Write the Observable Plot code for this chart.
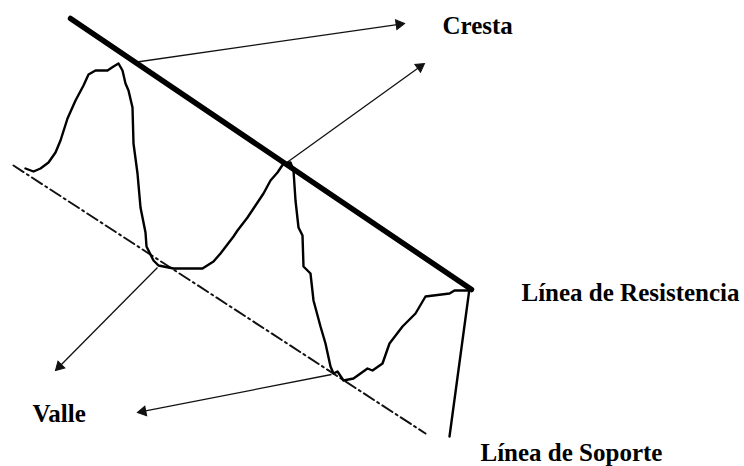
<!DOCTYPE html>
<html>
<head>
<meta charset="utf-8">
<script src="https://cdn.jsdelivr.net/npm/d3@7"></script>
<script src="https://cdn.jsdelivr.net/npm/@observablehq/plot@0.6"></script>
<style>
  html, body { margin: 0; padding: 0; background: #fff; }
  #chart { width: 744px; height: 466px; }
</style>
</head>
<body>
<div id="chart"></div>
<script>
// Price path (diagram units = reference pixel grid)
const priceX = [25,33,40,48,55,60,67,75,83,88,95,107,113,118,122,125,128,132,133,137,140,145,146,153,158,173,202,213,220,233,237,247,263,270,277,283,290,293,295,298,302,303,310,313,320,325,330,333,337,343,353,367,372,382,389,402,415,425,449,454,467,469,449];
const priceY = [168,171,168,162,152,140,118,100,85,74,70,70,66,63,70,83,90,107,143,173,207,232,246,260,265,268,268,261,253,236,230,217,193,180,172,163,162,170,200,227,235,266,273,300,326,343,366,373,371,380,378,368,370,363,343,326,313,296,293,290,290,288,436];

// Resistance (crest) line and support (valley) line endpoints
const resistanceX = [70, 471];
const resistanceY = [18, 289];
const supportX = [13, 425];
const supportY = [165, 433];

// Arrows: tail -> tip
const arrowX1 = [133, 285, 157, 331];
const arrowY1 = [62, 163, 267, 374];
const arrowX2 = [404, 424, 55, 137];
const arrowY2 = [23, 63, 370, 412];

// Labels
const labelText = ["Cresta", "Línea de Resistencia", "Valle", "Línea de Soporte"];
const labelX = [442, 521, 32, 480];
const labelY = [33, 300, 421, 460];

const price = priceX.map((x, i) => ({x, y: priceY[i]}));
const resistance = resistanceX.map((x, i) => ({x, y: resistanceY[i]}));
const support = supportX.map((x, i) => ({x, y: supportY[i]}));
const headR = 3.6;
const triY = Math.sqrt(headR * headR * Math.PI / (Math.sqrt(3) * 3));
const arrows = arrowX1.map((x1, i) => {
  const y1 = arrowY1[i], x2 = arrowX2[i], y2 = arrowY2[i];
  const dx = x2 - x1, dy = y2 - y1, len = Math.hypot(dx, dy);
  const ux = dx / len, uy = dy / len;
  const back = 2 * triY;
  return {
    x1, y1, x2: x2 - ux * back, y2: y2 - uy * back,
    hx: x2 - ux * back, hy: y2 - uy * back,
    angle: Math.atan2(dx, -dy) * 180 / Math.PI
  };
});
const labels = labelText.map((t, i) => ({t, x: labelX[i], y: labelY[i]}));

const chart = Plot.plot({
  width: 744,
  height: 466,
  margin: 0,
  x: {domain: [0, 744], axis: null},
  y: {domain: [466, 0], axis: null},
  style: {background: "#fff"},
  marks: [
    Plot.line(support, {x: "x", y: "y", stroke: "#111", strokeWidth: 2, strokeDasharray: "12,4,2,4"}),
    Plot.link(arrows, {x1: "x1", y1: "y1", x2: "x2", y2: "y2", stroke: "#111", strokeWidth: 1.3}),
    Plot.dot(arrows, {x: "hx", y: "hy", symbol: "triangle", r: headR, rotate: "angle", fill: "#111", stroke: "#111", strokeWidth: 1}),
    Plot.line(price, {x: "x", y: "y", stroke: "#000", strokeWidth: 2.4, curve: "linear"}),
    Plot.line(resistance, {x: "x", y: "y", stroke: "#000", strokeWidth: 5.5, strokeLinecap: "round"}),
    Plot.text(labels, {x: "x", y: "y", text: "t", textAnchor: "start", lineAnchor: "bottom",
      fontFamily: "Liberation Serif", fontWeight: "bold", fontSize: 25, fill: "#000"})
  ]
});
document.getElementById("chart").appendChild(chart);
</script>
</body>
</html>
